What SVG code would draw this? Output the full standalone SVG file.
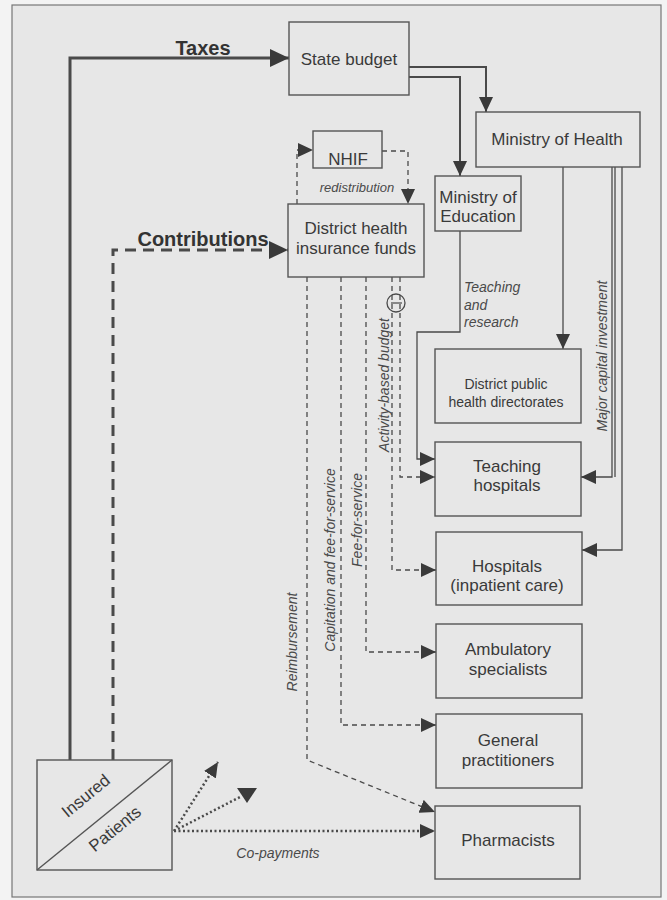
<svg xmlns="http://www.w3.org/2000/svg" width="667" height="900" viewBox="0 0 667 900">
<style>
text{font-family:"Liberation Sans",Arial,sans-serif;fill:#3a3a3a}
.box rect{fill:#e7e7e7;stroke:#555;stroke-width:1.4}
.bt{font-size:17px;text-anchor:middle}
.st{font-size:14px;text-anchor:middle}
.it{font-size:14px;font-style:italic;fill:#4a4a4a}
.itm{font-size:14px;font-style:italic;fill:#4a4a4a;text-anchor:middle}
.bold{font-size:20px;font-weight:bold;text-anchor:middle;fill:#333}
.c{fill:none;stroke:#4a4a4a}
.thick{stroke-width:3}
.med{stroke-width:2}
.thin{stroke-width:1.3}
.dashT{stroke-dasharray:11 7}
.dash{stroke-dasharray:5 4}
.dot{stroke-dasharray:2 2.5;stroke-width:2.5}
</style>
<defs>
<marker id="aL" markerUnits="userSpaceOnUse" markerWidth="19" markerHeight="18" refX="19" refY="9" orient="auto"><path d="M0,0 L19,9 L0,18 z" fill="#3a3a3a"/></marker>
<marker id="a" markerUnits="userSpaceOnUse" markerWidth="15" markerHeight="14" refX="15" refY="7" orient="auto"><path d="M0,0 L15,7 L0,14 z" fill="#3a3a3a"/></marker>
</defs>
<rect x="0" y="0" width="667" height="900" fill="#f3f3f3"/>
<rect x="12" y="5" width="649" height="892" fill="#e7e7e7" stroke="#777" stroke-width="1.2"/>

<g id="connectors">
<path class="c thick" d="M70,760 V58 H289" marker-end="url(#aL)"/>
<path class="c thick dashT" d="M113,760 V250 H288" marker-end="url(#aL)"/>
<path class="c med" d="M409,67 H486 V112" marker-end="url(#a)"/>
<path class="c med" d="M409,77 H460 V176" marker-end="url(#a)"/>
<path class="c thin dash" d="M297,204 V150 H313" marker-end="url(#a)"/>
<path class="c thin dash" d="M382,151 H408 V204" marker-end="url(#a)"/>
<path class="c thin" d="M460,231 V332 H417 V459 H435" marker-end="url(#a)"/>
<path class="c thin" d="M563,167 V349" marker-end="url(#a)"/>
<path class="c thin" d="M612,167 V477 H581" marker-end="url(#a)"/>
<path class="c thin" d="M615,167 V477"/>
<path class="c thin" d="M622,167 V550 H582" marker-end="url(#a)"/>
<path class="c thin dash" d="M400,277 V477 H435" marker-end="url(#a)"/>
<path class="c thin dash" d="M392,277 V570 H436" marker-end="url(#a)"/>
<path class="c thin dash" d="M366,277 V652 H436" marker-end="url(#a)"/>
<path class="c thin dash" d="M341,277 V725 H436" marker-end="url(#a)"/>
<path class="c thin dash" d="M307,277 V760 L435,812" marker-end="url(#a)"/>
<ellipse cx="396" cy="303" rx="9" ry="9" fill="none" stroke="#4a4a4a" stroke-width="1.3"/>
<line x1="391" y1="303" x2="402" y2="303" stroke="#4a4a4a" stroke-width="1.2"/>
<path class="c dot" d="M174,831 H435" marker-end="url(#a)"/>
<path class="c dot" d="M174,831 L218,762" marker-end="url(#a)"/>
<path class="c dot" d="M174,831 L240,797"/>
<polygon points="237,788 257,788 247,803" fill="#3a3a3a"/>
</g>

<g id="labels">
<text class="bold" x="203" y="55">Taxes</text>
<text class="bold" x="203" y="246">Contributions</text>
<text class="itm" x="357" y="192" style="font-size:13px">redistribution</text>
<text class="it" x="464" y="292">Teaching</text>
<text class="it" x="464" y="310">and</text>
<text class="it" x="464" y="327">research</text>
<text class="itm" transform="translate(607,356) rotate(-90)">Major capital investment</text>
<text class="itm" transform="translate(389,385) rotate(-90)">Activity-based budget</text>
<text class="itm" transform="translate(362,520) rotate(-90)">Fee-for-service</text>
<text class="itm" transform="translate(335,560) rotate(-90)">Capitation and fee-for-service</text>
<text class="itm" transform="translate(297,642) rotate(-90)">Reimbursement</text>
<text class="itm" x="278" y="858">Co-payments</text>
</g>

<g id="state-budget" class="box"><rect x="289" y="22" width="120" height="73"/><text class="bt" x="349" y="65">State budget</text></g>
<g id="ministry-health" class="box"><rect x="476" y="112" width="164" height="55"/><text class="bt" x="557" y="145">Ministry of Health</text></g>
<g id="ministry-education" class="box"><rect x="435" y="176" width="86" height="55"/><text class="bt" x="478" y="203">Ministry of</text><text class="bt" x="478" y="222">Education</text></g>
<g id="nhif" class="box"><rect x="313" y="131" width="69" height="37"/><text class="bt" x="348" y="165">NHIF</text></g>
<g id="dhif" class="box"><rect x="288" y="204" width="136" height="73"/><text class="bt" x="356" y="234">District health</text><text class="bt" x="356" y="254">insurance funds</text></g>
<g id="dphd" class="box"><rect x="435" y="349" width="146" height="74"/><text class="st" x="506" y="389">District public</text><text class="st" x="506" y="407">health directorates</text></g>
<g id="teaching-hospitals" class="box"><rect x="435" y="442" width="146" height="74"/><text class="bt" x="507" y="472">Teaching</text><text class="bt" x="507" y="491">hospitals</text></g>
<g id="hospitals" class="box"><rect x="436" y="532" width="146" height="73"/><text class="bt" x="507" y="572">Hospitals</text><text class="bt" x="507" y="591">(inpatient care)</text></g>
<g id="ambulatory" class="box"><rect x="436" y="624" width="146" height="74"/><text class="bt" x="508" y="655">Ambulatory</text><text class="bt" x="508" y="675">specialists</text></g>
<g id="gp" class="box"><rect x="436" y="714" width="146" height="74"/><text class="bt" x="508" y="746">General</text><text class="bt" x="508" y="766">practitioners</text></g>
<g id="pharmacists" class="box"><rect x="435" y="806" width="145" height="73"/><text class="bt" x="508" y="846">Pharmacists</text></g>
<g id="insured-patients" class="box"><rect x="37" y="760" width="135" height="110"/><line x1="37" y1="870" x2="172" y2="760" stroke="#555" stroke-width="1.4"/>
<text class="bt" style="font-size:17px" dominant-baseline="central" transform="translate(86,796) rotate(-39.4)">Insured</text>
<text class="bt" style="font-size:17px" dominant-baseline="central" transform="translate(115,829) rotate(-39.4)">Patients</text></g>
</svg>
